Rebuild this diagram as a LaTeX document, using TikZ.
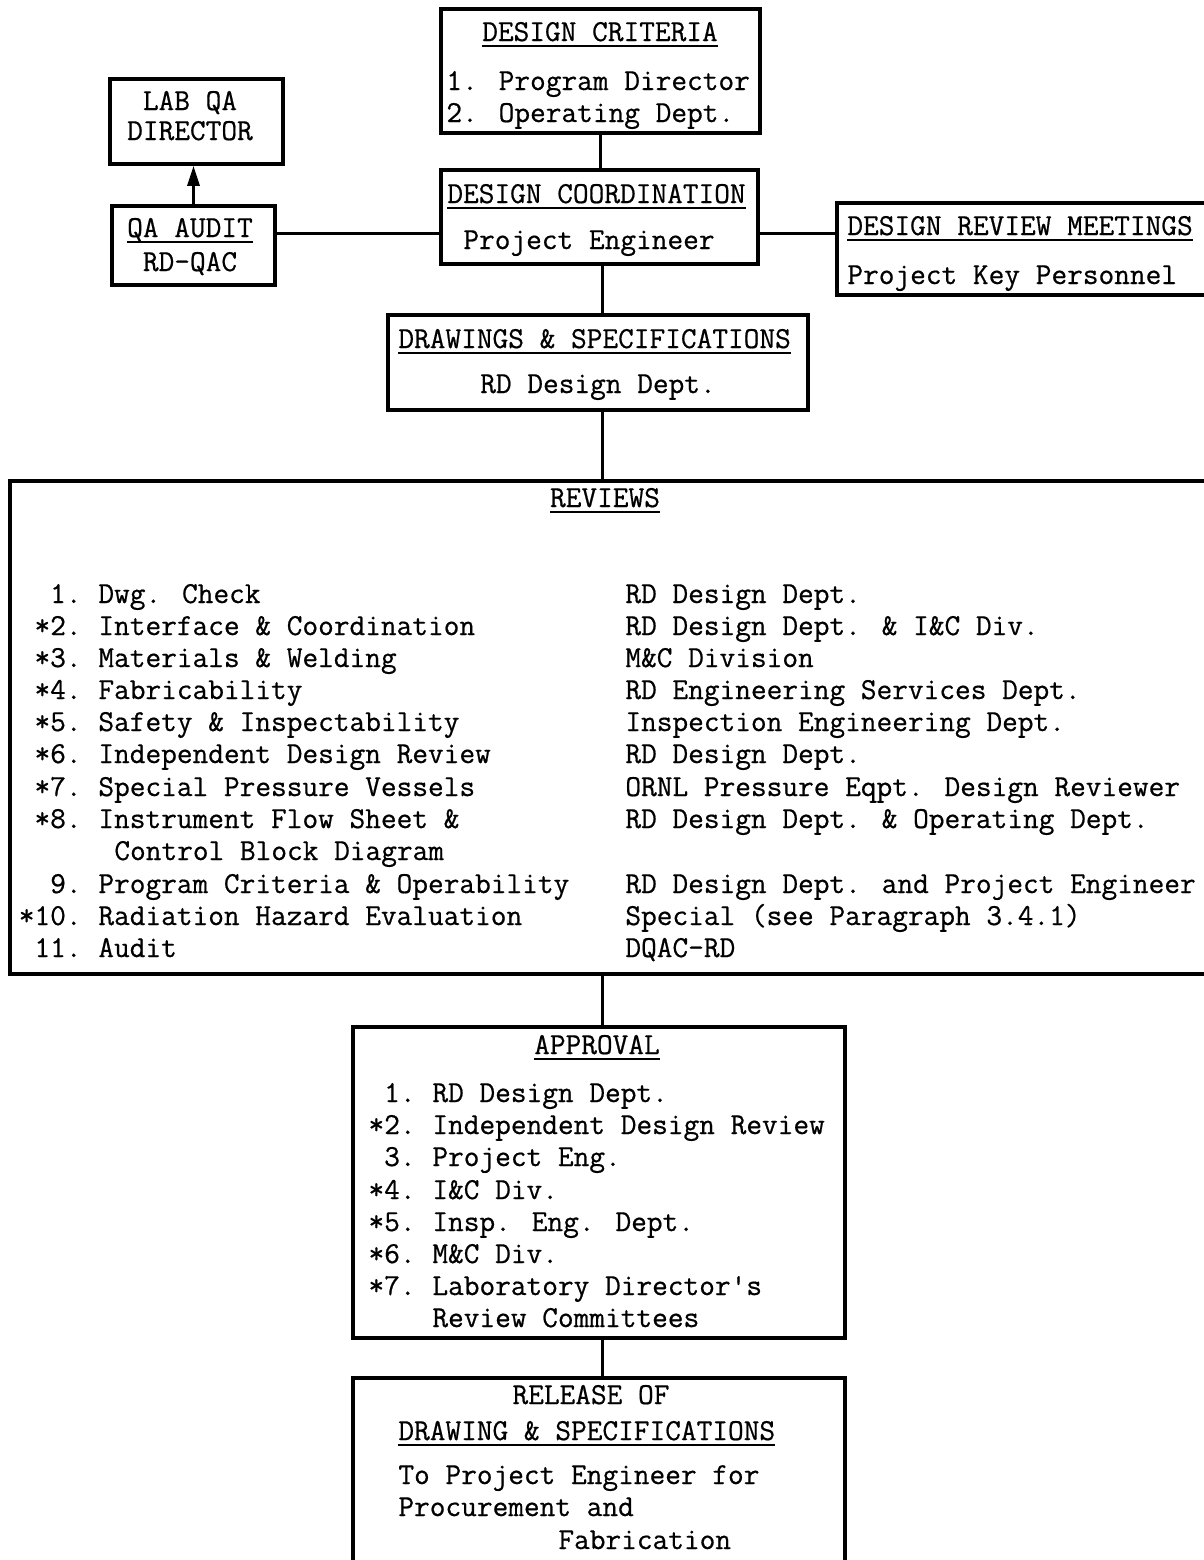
\documentclass[tikz,border=0pt]{standalone}
\usepackage{fontspec}
\newfontfamily\tw{Latin Modern Mono}[FakeBold=0.6]
\usetikzlibrary{fit,arrows.meta}
\newcommand\ulx[1]{\setbox0\hbox{#1}\rlap{\rule[-3pt]{\wd0}{0.8pt}}\box0}
\begin{document}
\begin{tikzpicture}[x=0.5pt,y=-0.5pt,
  box/.style={draw, line width=1.8pt, inner sep=0pt, rectangle},
  conn/.style={line width=1.5pt},
  tt/.style={font=\tw\fontsize{15.24}{16}\selectfont, inner sep=0pt, anchor=base west},
  ttc/.style={tt, anchor=base},
  tte/.style={tt, anchor=base east}]
\useasboundingbox (0,0) rectangle (1204,1560);
\fill[white] (0,0) rectangle (1204,1560);

% boxes
\node[box, fit={(441,9) (760,133)}] (dcrit) {};
\node[box, fit={(441,170) (758,264)}] (dcoord) {};
\node[box, fit={(110,79) (283,164)}] (labqa) {};
\node[box, fit={(112,206) (275,285)}] (qaaudit) {};
\node[box, fit={(837,203) (1220,295)}] (drm) {};
\node[box, fit={(388,315) (808,410)}] (dspec) {};
\node[box, fit={(10,481) (1220,974)}] (reviews) {};
\node[box, fit={(353,1027) (845,1338)}] (approval) {};
\node[box, fit={(353,1378) (845,1580)}] (release) {};

% texts
\node[ttc] (tdcrit) at (600,41) {\ulx{DESIGN CRITERIA}};
\node[tt] (tdcrit1) at (446,90) {1. Program Director};
\node[tt] (tdcrit2) at (446,122) {2. Operating Dept.};
\node[ttc] (tlab1) at (190,110) {LAB QA};
\node[ttc] (tlab2) at (190,140) {DIRECTOR};
\node[ttc] (tqa1) at (190,237) {\ulx{QA AUDIT}};
\node[ttc] (tqa2) at (190,271) {RD-QAC};
\node[tt] (tdco1) at (447,203) {\ulx{DESIGN COORDINATION}};
\node[tt] (tdco2) at (463,249) {Project Engineer};
\node[tt] (tdrm1) at (847,235) {\ulx{DESIGN REVIEW MEETINGS}};
\node[tt] (tdrm2) at (847,284) {Project Key Personnel};
\node[tt] (tds1) at (398,348) {\ulx{DRAWINGS \& SPECIFICATIONS}};
\node[ttc] (tds2) at (598,393) {RD Design Dept.};
\node[ttc] (trev) at (605,507) {\ulx{REVIEWS}};

\foreach \i/\yy/\p/\a/\b in {
  1/603/{1.}/{Dwg. Check}/{RD Design Dept.},
  2/635/{*2.}/{Interface \& Coordination}/{RD Design Dept. \& I\&C Div.},
  3/667/{*3.}/{Materials \& Welding}/{M\&C Division},
  4/699/{*4.}/{Fabricability}/{RD Engineering Services Dept.},
  5/731/{*5.}/{Safety \& Inspectability}/{Inspection Engineering Dept.},
  6/763/{*6.}/{Independent Design Review}/{RD Design Dept.},
  7/796/{*7.}/{Special Pressure Vessels}/{ORNL Pressure Eqpt. Design Reviewer},
  8/828/{*8.}/{Instrument Flow Sheet \&}/{RD Design Dept. \& Operating Dept.},
  9/893/{9.}/{Program Criteria \& Operability}/{RD Design Dept. and Project Engineer},
  10/925/{*10.}/{Radiation Hazard Evaluation}/{Special (see Paragraph 3.4.1)},
  11/957/{11.}/{Audit}/{DQAC-RD}}{
  \node[tte] (rp\i) at (82,\yy) {\p};
  \node[tt] (ra\i) at (98,\yy) {\a};
  \node[tt] (rb\i) at (625,\yy) {\b};
}
\node[tt] (ra8b) at (114,860) {Control Block Diagram};

\node[ttc] (tapp) at (597,1054) {\ulx{APPROVAL}};
\foreach \i/\yy/\p/\a in {
  1/1102/{1.}/{RD Design Dept.},
  2/1134/{*2.}/{Independent Design Review},
  3/1166/{3.}/{Project Eng.},
  4/1199/{*4.}/{I\&C Div.},
  5/1231/{*5.}/{Insp. Eng. Dept.},
  6/1263/{*6.}/{M\&C Div.},
  7/1295/{*7.}/{Laboratory Director\textquotesingle s}}{
  \node[tte] (ap\i) at (416,\yy) {\p};
  \node[tt] (aa\i) at (432,\yy) {\a};
}
\node[tt] (aa7b) at (432,1327) {Review Committees};

\node[ttc] (trel1) at (591,1404) {RELEASE OF};
\node[tt] (trel2) at (398,1440) {\ulx{DRAWING \& SPECIFICATIONS}};
\node[tt] (trel3) at (398,1484) {To Project Engineer for};
\node[tt] (trel4) at (398,1516) {Procurement and};
\node[tt] (trel5) at (558,1549) {Fabrication};

% connectors
\coordinate (qy) at (0,233);
\coordinate (cx) at (602,0);
\draw[conn] (dcrit.south) -- (dcrit.south |- dcoord.north);
\draw[conn] (qaaudit.east |- qy) -- (dcoord.west |- qy);
\draw[conn] (dcoord.east |- qy) -- (drm.west |- qy);
\draw[conn, -{Triangle[length=10pt,width=6pt]}] (qaaudit.north) -- (qaaudit.north |- labqa.south);
\draw[conn] (dcoord.south -| cx) -- (dspec.north -| cx);
\draw[conn] (dspec.south -| cx) -- (reviews.north -| cx);
\draw[conn] (reviews.south -| cx) -- (approval.north -| cx);
\draw[conn] (approval.south -| cx) -- (release.north -| cx);
\end{tikzpicture}
\end{document}
